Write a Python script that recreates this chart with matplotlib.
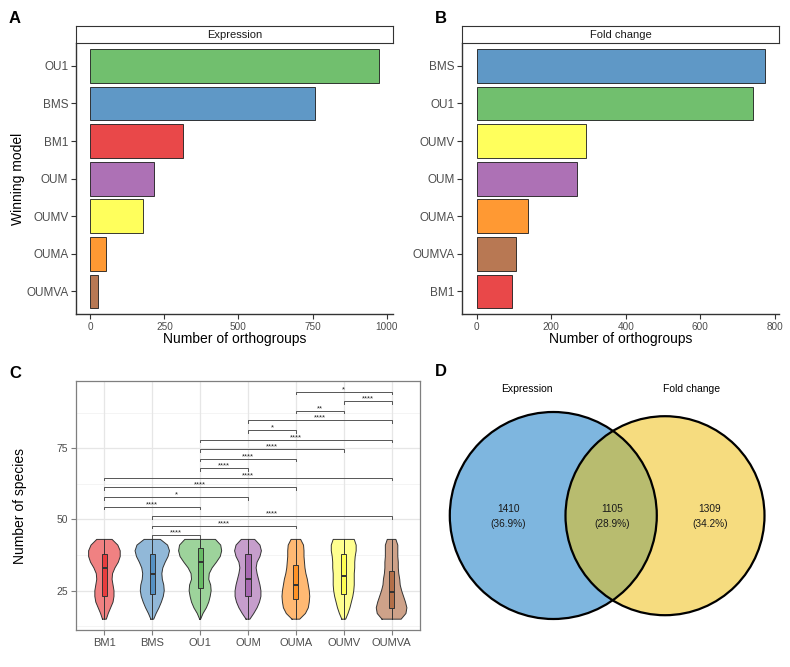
import numpy as np
import matplotlib
matplotlib.use("Agg")
import matplotlib.pyplot as plt
from matplotlib.patches import Circle
from matplotlib.colors import to_rgb

plt.rcParams['font.family'] = ['Liberation Sans', 'DejaVu Sans']

# ---------------- data ----------------
models = ['BM1', 'BMS', 'OU1', 'OUM', 'OUMA', 'OUMV', 'OUMVA']
expr_counts = [313, 757, 973, 215, 53, 177, 27]
fold_counts = [96, 773, 742, 268, 137, 292, 106]
expr_ticks = [0, 250, 500, 750, 1000]
fold_ticks = [0, 200, 400, 600, 800]

violin_y = [15, 17, 19, 21, 23, 25, 27, 29, 31, 33, 35, 37, 39, 41, 43]
violin_hw_BM1 = [0.04, 0.08, 0.13, 0.18, 0.20, 0.20, 0.18, 0.16, 0.17, 0.22, 0.29, 0.33, 0.33, 0.28, 0.16]
violin_hw_BMS = [0.03, 0.08, 0.14, 0.19, 0.23, 0.25, 0.24, 0.21, 0.20, 0.22, 0.27, 0.33, 0.36, 0.32, 0.17]
violin_hw_OU1 = [0.01, 0.06, 0.13, 0.18, 0.21, 0.23, 0.22, 0.18, 0.19, 0.25, 0.34, 0.42, 0.45, 0.43, 0.32]
violin_hw_OUM = [0.04, 0.12, 0.19, 0.24, 0.27, 0.27, 0.25, 0.22, 0.19, 0.17, 0.19, 0.25, 0.28, 0.25, 0.14]
violin_hw_OUMA = [0.08, 0.20, 0.26, 0.28, 0.29, 0.28, 0.26, 0.24, 0.21, 0.19, 0.18, 0.17, 0.17, 0.16, 0.10]
violin_hw_OUMV = [0.04, 0.09, 0.13, 0.16, 0.19, 0.21, 0.22, 0.22, 0.22, 0.23, 0.23, 0.24, 0.26, 0.26, 0.22]
violin_hw_OUMVA = [0.20, 0.30, 0.32, 0.29, 0.25, 0.21, 0.18, 0.17, 0.15, 0.14, 0.14, 0.13, 0.13, 0.13, 0.09]
violin_hw = [violin_hw_BM1, violin_hw_BMS, violin_hw_OU1, violin_hw_OUM,
             violin_hw_OUMA, violin_hw_OUMV, violin_hw_OUMVA]

box_q1 = [23, 24, 26, 23, 22, 24, 19]
box_med = [33, 31, 35, 29, 27, 30, 24.5]
box_q3 = [38, 38, 40, 38, 34, 38, 32]
box_lo = [15, 15, 15, 15, 15, 15, 15]
box_hi = [43, 43, 43, 43, 43, 43, 43]

comp_a = ['BMS', 'BMS', 'BMS', 'BM1', 'BM1', 'BM1', 'BM1', 'OU1', 'OU1', 'OU1', 'OU1',
          'OUM', 'OUM', 'OUMA', 'OUMV', 'OUMA']
comp_b = ['OU1', 'OUMA', 'OUMVA', 'OU1', 'OUM', 'OUMA', 'OUMVA', 'OUM', 'OUMA', 'OUMV', 'OUMVA',
          'OUMA', 'OUMVA', 'OUMV', 'OUMVA', 'OUMVA']
comp_lab = ['****', '****', '****', '****', '*', '****', '****', '****', '****', '****', '****',
            '*', '****', '**', '****', '*']
c_yticks = [25, 50, 75]

venn_sets = ['Expression', 'Fold change']
venn_counts = [1410, 1105, 1309]

# ---------------- style ----------------
set1 = {'BM1': '#E41A1C', 'BMS': '#377EB8', 'OU1': '#4DAF4A', 'OUM': '#984EA3',
        'OUMA': '#FF7F00', 'OUMV': '#FFFF33', 'OUMVA': '#A65628'}

def blend(c, a):
    r = np.array(to_rgb(c))
    return tuple(r * a + (1 - a))

W, H = 790, 667
fig = plt.figure(figsize=(W / 100, H / 100), dpi=100)

def rect(x0, y0, x1, y1):
    return [x0 / W, 1 - y1 / H, (x1 - x0) / W, (y1 - y0) / H]

AX = '#333333'
TXT = '#4D4D4D'

def bar_panel(x0, x1, counts, ticks, strip):
    ax = fig.add_axes(rect(x0, 43.3, x1, 314))
    order = sorted(range(len(models)), key=lambda i: counts[i], reverse=True)
    n = len(order)
    pos = np.arange(n)[::-1]
    vals = [counts[i] for i in order]
    labs = [models[i] for i in order]
    cols = [blend(set1[m], 0.8) for m in labs]
    ax.barh(pos, vals, height=0.9, color=cols, edgecolor='#1a1a1a', linewidth=0.6)
    mx = max(counts)
    ax.set_xlim(-0.05 * mx, 1.05 * mx)
    ax.set_ylim(-0.6, n - 0.4)
    ax.set_yticks(pos)
    ax.set_yticklabels(labs)
    ax.set_xticks(ticks)
    ax.set_xticklabels([str(t) for t in ticks])
    for s in ['top', 'right']:
        ax.spines[s].set_visible(False)
    for s in ['left', 'bottom']:
        ax.spines[s].set_color(AX)
        ax.spines[s].set_linewidth(1.0)
    ax.tick_params(axis='both', length=3.5, width=0.8, color=AX, labelcolor=TXT, pad=2)
    ax.tick_params(axis='y', labelsize=8.5)
    ax.tick_params(axis='x', labelsize=7.2)
    ax.set_xlabel('Number of orthogroups', fontsize=10, color='black', labelpad=0.5)
    sx = fig.add_axes(rect(x0, 26, x1, 43.3))
    sx.set_xticks([]); sx.set_yticks([])
    for s in sx.spines.values():
        s.set_color(AX); s.set_linewidth(0.8)
    sx.text(0.5, 0.5, strip, ha='center', va='center', fontsize=8, color='#1A1A1A',
            transform=sx.transAxes)
    return ax

axA = bar_panel(76, 393, expr_counts, expr_ticks, 'Expression')
axA.set_ylabel('Winning model', fontsize=10, labelpad=0.5)
axB = bar_panel(462.3, 779.3, fold_counts, fold_ticks, 'Fold change')

# ---------------- panel C ----------------
axC = fig.add_axes(rect(75.7, 381, 420.3, 630))
axC.set_xlim(0.4, 7.6)
axC.set_ylim(11.2, 98.6)
for y in [12.5, 37.5, 62.5, 87.5]:
    axC.axhline(y, color='#F0F0F0', lw=0.5, zorder=0)
for y in c_yticks:
    axC.axhline(y, color='#E6E6E6', lw=0.9, zorder=0)
for i in range(len(models)):
    axC.axvline(i + 1, color='#E6E6E6', lw=0.9, zorder=0)

yv = np.array(violin_y, dtype=float)
for i, m in enumerate(models):
    p = i + 1
    hw = np.array(violin_hw[i])
    axC.fill_betweenx(yv, p - hw, p + hw, facecolor=blend(set1[m], 0.55), edgecolor='none', zorder=2)
    xs = np.r_[p - hw, (p + hw)[::-1], p - hw[0]]
    ys = np.r_[yv, yv[::-1], yv[0]]
    axC.plot(xs, ys, color=AX, lw=0.7, zorder=3)

stats = [dict(med=box_med[i], q1=box_q1[i], q3=box_q3[i], whislo=box_lo[i], whishi=box_hi[i],
              fliers=[]) for i in range(len(models))]
bp = axC.bxp(stats, positions=np.arange(1, 8), widths=0.11, patch_artist=True, showcaps=False,
             showfliers=False, manage_ticks=False, zorder=4,
             boxprops=dict(edgecolor=AX, linewidth=0.7),
             whiskerprops=dict(color=AX, linewidth=0.7),
             medianprops=dict(color=AX, linewidth=1.4))
for patch, m in zip(bp['boxes'], models):
    patch.set_facecolor(blend(set1[m], 0.85))

bracket_start, bracket_step, tip = 44.45, 3.36, 0.9
for k in range(len(comp_a)):
    xa = models.index(comp_a[k]) + 1
    xb = models.index(comp_b[k]) + 1
    y = bracket_start + k * bracket_step
    axC.plot([xa, xa, xb, xb], [y - tip, y, y, y - tip], color='#555555', lw=0.7, zorder=5)
    axC.text((xa + xb) / 2, y + 0.2, comp_lab[k], ha='center', va='baseline', fontsize=5.5,
             color='#222222', zorder=5)

axC.set_xticks(np.arange(1, 8))
axC.set_xticklabels(models)
axC.set_yticks(c_yticks)
for s in axC.spines.values():
    s.set_color('#7F7F7F'); s.set_linewidth(0.9)
axC.tick_params(axis='both', length=3.5, width=0.8, color='#7F7F7F', labelcolor=TXT, pad=2)
axC.tick_params(axis='x', labelsize=8)
axC.tick_params(axis='y', labelsize=7.5)
axC.set_ylabel('Number of species', fontsize=10, labelpad=21)

# ---------------- panel D ----------------
axD = fig.add_axes(rect(430, 340, 790, 667))
axD.set_xlim(430, 790)
axD.set_ylim(667, 340)
axD.axis('off')
c1, r1 = (553.3, 515.5), 103.5
c2, r2 = (665.0, 515.7), 99.5
axD.add_patch(Circle(c1, r1, facecolor='#7EB6DF', edgecolor='none'))
axD.add_patch(Circle(c2, r2, facecolor='#F6DC7F', edgecolor='none'))
ov = Circle(c1, r1, facecolor='#B8BC6F', edgecolor='none')
axD.add_patch(ov)
clip = Circle(c2, r2, transform=axD.transData)
ov.set_clip_path(clip)
axD.add_patch(Circle(c1, r1, fill=False, edgecolor='black', lw=1.6))
axD.add_patch(Circle(c2, r2, fill=False, edgecolor='black', lw=1.6))
tot = sum(venn_counts)
axD.text(526.7, 389, venn_sets[0], ha='center', va='center', fontsize=7.5)
axD.text(691.7, 389, venn_sets[1], ha='center', va='center', fontsize=7.5)
for xc, v in zip([508.3, 611.7, 710.0], venn_counts):
    axD.text(xc, 509, str(v), ha='center', va='center', fontsize=7.3, color='#1A1A1A')
    axD.text(xc, 524.3, '(%.1f%%)' % (100 * v / tot), ha='center', va='center', fontsize=7.3,
             color='#1A1A1A')

# panel letters
for lab, x, y in [('A', 15, 18.7), ('B', 440.5, 18.7), ('C', 15.3, 373.5), ('D', 440.5, 372)]:
    fig.text(x / W, 1 - y / H, lab, ha='center', va='center', fontsize=12, fontweight='bold')

fig.savefig('out.png', dpi=100)
